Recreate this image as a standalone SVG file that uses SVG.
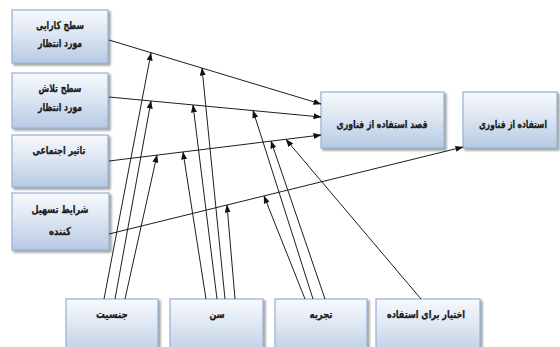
<svg xmlns="http://www.w3.org/2000/svg" width="560" height="347" viewBox="0 0 560 347">
  <defs>
    <linearGradient id="boxFill" x1="0" y1="0" x2="0" y2="1">
      <stop offset="0" stop-color="#f7f9fc"/>
      <stop offset="0.45" stop-color="#dde6f2"/>
      <stop offset="1" stop-color="#b7cae3"/>
    </linearGradient>
    <filter id="shadow" x="-10%" y="-10%" width="130%" height="140%">
      <feDropShadow dx="2" dy="2" stdDeviation="1" flood-color="#7f7f7f" flood-opacity="0.75"/>
    </filter>
    <marker id="arrow" markerWidth="8" markerHeight="6" refX="7.5" refY="3" orient="auto" markerUnits="userSpaceOnUse">
      <path d="M0,0 L8,3 L0,6 z" fill="#111"/>
    </marker>
  </defs>
  <style>
    .box { fill: url(#boxFill); stroke: #9bb5d8; stroke-width: 1.3; filter: url(#shadow); }
    .lbl { font-family: "DejaVu Sans", "Noto Sans", sans-serif; font-size: 11px; font-weight: bold; fill: #1a1a1a; stroke: #1a1a1a; stroke-width: 0.25; text-anchor: middle; }
    .edge { stroke: #1e1e1e; stroke-width: 1; fill: none; marker-end: url(#arrow); }
  </style>

  <rect width="560" height="347" fill="#ffffff"/>

  <!-- left column: predictors -->
  <g id="performance">
    <rect class="box" x="12" y="10" width="96" height="53"/>
    <text class="lbl" x="60" y="29" direction="rtl" textLength="48" lengthAdjust="spacingAndGlyphs">سطح کارایی</text>
    <text class="lbl" x="60" y="47" direction="rtl" textLength="44" lengthAdjust="spacingAndGlyphs">مورد انتظار</text>
  </g>
  <g id="effort">
    <rect class="box" x="12" y="73" width="96" height="55"/>
    <text class="lbl" x="60" y="92" direction="rtl" textLength="43" lengthAdjust="spacingAndGlyphs">سطح تلاش</text>
    <text class="lbl" x="60" y="111" direction="rtl" textLength="44" lengthAdjust="spacingAndGlyphs">مورد انتظار</text>
  </g>
  <g id="social">
    <rect class="box" x="12" y="135" width="96" height="52"/>
    <text class="lbl" x="59" y="154" direction="rtl" textLength="53" lengthAdjust="spacingAndGlyphs">تاثیر اجتماعی</text>
  </g>
  <g id="facilitating">
    <rect class="box" x="12" y="193" width="97" height="57"/>
    <text class="lbl" x="60" y="213" direction="rtl" textLength="57" lengthAdjust="spacingAndGlyphs">شرایط تسهیل</text>
    <text class="lbl" x="60" y="235" direction="rtl" textLength="22" lengthAdjust="spacingAndGlyphs">کننده</text>
  </g>

  <!-- intention and use -->
  <g id="intention">
    <rect class="box" x="321" y="92" width="123" height="56"/>
    <text class="lbl" x="382" y="128" direction="rtl" textLength="91" lengthAdjust="spacingAndGlyphs">قصد استفاده از فناوری</text>
  </g>
  <g id="usage">
    <rect class="box" x="463" y="92" width="94" height="56"/>
    <text class="lbl" transform="translate(513 128) scale(0.68 1)" x="0" y="0" direction="rtl">استفاده از فناوری</text>
  </g>

  <!-- bottom row: moderators -->
  <g id="gender">
    <rect class="box" x="66" y="299" width="92" height="60"/>
    <text class="lbl" x="112" y="318" direction="rtl" textLength="32" lengthAdjust="spacingAndGlyphs">جنسیت</text>
  </g>
  <g id="age">
    <rect class="box" x="170" y="299" width="93" height="60"/>
    <text class="lbl" x="217" y="318" direction="rtl" textLength="15" lengthAdjust="spacingAndGlyphs">سن</text>
  </g>
  <g id="experience">
    <rect class="box" x="275" y="299" width="92" height="60"/>
    <text class="lbl" x="321" y="318" direction="rtl" textLength="23" lengthAdjust="spacingAndGlyphs">تجربه</text>
  </g>
  <g id="voluntariness">
    <rect class="box" x="376" y="299" width="104" height="60"/>
    <text class="lbl" x="426" y="318" direction="rtl" textLength="78" lengthAdjust="spacingAndGlyphs">اختیار برای استفاده</text>
  </g>

  <!-- connectors -->
  <g id="connectors">
    <line class="edge" x1="109" y1="40" x2="321" y2="104"/>
    <line class="edge" x1="109" y1="97" x2="321" y2="117"/>
    <line class="edge" x1="109" y1="161" x2="321" y2="135"/>
    <line class="edge" x1="109" y1="234" x2="463" y2="147"/>

    <line class="edge" x1="104" y1="299" x2="151" y2="53"/>
    <line class="edge" x1="115" y1="299" x2="151" y2="101"/>
    <line class="edge" x1="125" y1="299" x2="157" y2="155"/>

    <line class="edge" x1="206" y1="299" x2="183" y2="152"/>
    <line class="edge" x1="217" y1="299" x2="193" y2="105"/>
    <line class="edge" x1="225" y1="299" x2="202" y2="68"/>
    <line class="edge" x1="235" y1="299" x2="227" y2="205"/>

    <line class="edge" x1="305" y1="299" x2="264" y2="196"/>
    <line class="edge" x1="313" y1="299" x2="253" y2="110.5"/>
    <line class="edge" x1="325" y1="299" x2="271" y2="141"/>

    <line class="edge" x1="421" y1="299" x2="286" y2="139.5"/>
  </g>
</svg>
